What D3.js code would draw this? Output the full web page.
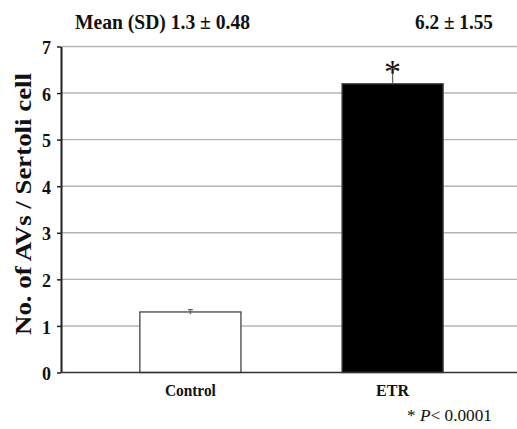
<!DOCTYPE html>
<html>
<head>
<meta charset="utf-8">
<script src="https://cdn.jsdelivr.net/npm/d3@7"></script>
<style>
  body { margin: 0; background: #fff; }
  svg text { font-family: "Liberation Serif", "Times New Roman", Times, serif; fill: #111; }
</style>
</head>
<body>
<svg id="chart" width="517" height="429"></svg>
<script>
const categories = ['Control', 'ETR']
const means = [1.3, 6.2]
const errors = [0.05, 0.3]
const fills = ['#ffffff', '#000000']
const headerLabels = ['Mean (SD) 1.3 \u00b1 0.48', '6.2 \u00b1 1.55']
const yTicks = [0, 1, 2, 3, 4, 5, 6, 7]

const svg = d3.select('#chart')
const margin = { left: 61, top: 46.5, bottom: 372.5, right: 522 }

const x = d3.scaleBand()
    .domain( categories )
    .range( [ margin.left, margin.right ] )
    .paddingInner( 0.5 )
    .paddingOuter( 0.39 )

const y = d3.scaleLinear()
    .domain( [ 0, 7 ] )
    .range( [ margin.bottom, margin.top ] )

// gridlines
svg.append('g')
    .selectAll('line')
    .data( yTicks.slice(1) )
    .join('line')
    .attr( 'x1', margin.left ).attr( 'x2', 517 )
    .attr( 'y1', d => y(d) ).attr( 'y2', d => y(d) )
    .attr( 'stroke', '#b4b4b4' ).attr( 'stroke-width', 1.4 )

// bars
svg.append('g')
    .selectAll('rect')
    .data( categories )
    .join('rect')
    .attr( 'x', d => x(d) )
    .attr( 'width', x.bandwidth() )
    .attr( 'y', (d, i) => y( means[i] ) )
    .attr( 'height', (d, i) => y(0) - y( means[i] ) )
    .attr( 'fill', (d, i) => fills[i] )
    .attr( 'stroke', '#444' ).attr( 'stroke-width', 1.3 )

// error bars
const eb = svg.append('g')
categories.forEach( (c, i) => {
    const cx = x(c) + x.bandwidth() / 2
    const lo = i === 0 ? means[i] - errors[i] : means[i]
    eb.append('line')
        .attr( 'x1', cx ).attr( 'x2', cx )
        .attr( 'y1', y( lo ) ).attr( 'y2', y( means[i] + errors[i] ) )
        .attr( 'stroke', '#666' ).attr( 'stroke-width', 1.3 )
    eb.append('line')
        .attr( 'x1', cx - 2.5 ).attr( 'x2', cx + 2.5 )
        .attr( 'y1', y( means[i] + errors[i] ) ).attr( 'y2', y( means[i] + errors[i] ) )
        .attr( 'stroke', '#666' ).attr( 'stroke-width', 1.3 )
} )

// significance asterisk
svg.append('text')
    .attr( 'x', x('ETR') + x.bandwidth() / 2 )
    .attr( 'y', y( means[1] + errors[1] ) + 13 )
    .attr( 'text-anchor', 'middle' )
    .attr( 'font-size', 34 )
    .text('*')

// y axis
const yAxis = d3.axisLeft( y )
    .tickValues( yTicks )
    .tickFormat( d3.format('d') )
    .tickSize( 4 )
    .tickSizeOuter( 0 )

const gy = svg.append('g')
    .attr( 'transform', `translate( ${margin.left}, 0 )` )
    .call( yAxis )
gy.select('.domain').attr( 'stroke', '#222' ).attr( 'stroke-width', 2 )
gy.selectAll('.tick line').attr( 'stroke', '#222' ).attr( 'stroke-width', 1.5 )
gy.selectAll('.tick text')
    .attr( 'x', -10 )
    .attr( 'dy', '0.62em' )
    .attr( 'y', -4 )
    .attr( 'font-size', 18 )
    .attr( 'font-weight', 'bold' )

svg.append('line')
    .attr( 'x1', margin.left ).attr( 'x2', 517 )
    .attr( 'y1', y(0) ).attr( 'y2', y(0) )
    .attr( 'stroke', '#333' ).attr( 'stroke-width', 1.6 )

// category labels
svg.append('g')
    .selectAll('text')
    .data( categories )
    .join('text')
    .attr( 'x', d => x(d) + x.bandwidth() / 2 )
    .attr( 'y', 396 )
    .attr( 'text-anchor', 'middle' )
    .attr( 'font-size', 17 )
    .attr( 'font-weight', 'bold' )
    .attr( 'textLength', d => d === 'Control' ? 51 : 33 )
    .attr( 'lengthAdjust', 'spacingAndGlyphs' )
    .text( d => d )

// y title
svg.append('text')
    .attr( 'transform', `translate( 31, 204 ) rotate(-90)` )
    .attr( 'text-anchor', 'middle' )
    .attr( 'font-size', 23 )
    .attr( 'font-weight', 'bold' )
    .attr( 'textLength', 262 )
    .attr( 'lengthAdjust', 'spacingAndGlyphs' )
    .text('No. of AVs / Sertoli cell')

// header means
svg.append('text')
    .attr( 'x', 75 ).attr( 'y', 29 )
    .attr( 'font-size', 22 )
    .attr( 'font-weight', 'bold' )
    .attr( 'textLength', 175 )
    .attr( 'lengthAdjust', 'spacingAndGlyphs' )
    .text( headerLabels[0] )
svg.append('text')
    .attr( 'x', 415 ).attr( 'y', 29 )
    .attr( 'font-size', 22 )
    .attr( 'font-weight', 'bold' )
    .attr( 'textLength', 78 )
    .attr( 'lengthAdjust', 'spacingAndGlyphs' )
    .text( headerLabels[1] )

// p-value note
const note = svg.append('text')
    .attr( 'x', 407 ).attr( 'y', 421 )
    .attr( 'font-size', 17 )
    .attr( 'textLength', 85 )
    .attr( 'lengthAdjust', 'spacingAndGlyphs' )
note.append('tspan').text('* ')
note.append('tspan').attr( 'font-style', 'italic' ).text('P')
note.append('tspan').text('< 0.0001')
</script>
</body>
</html>
